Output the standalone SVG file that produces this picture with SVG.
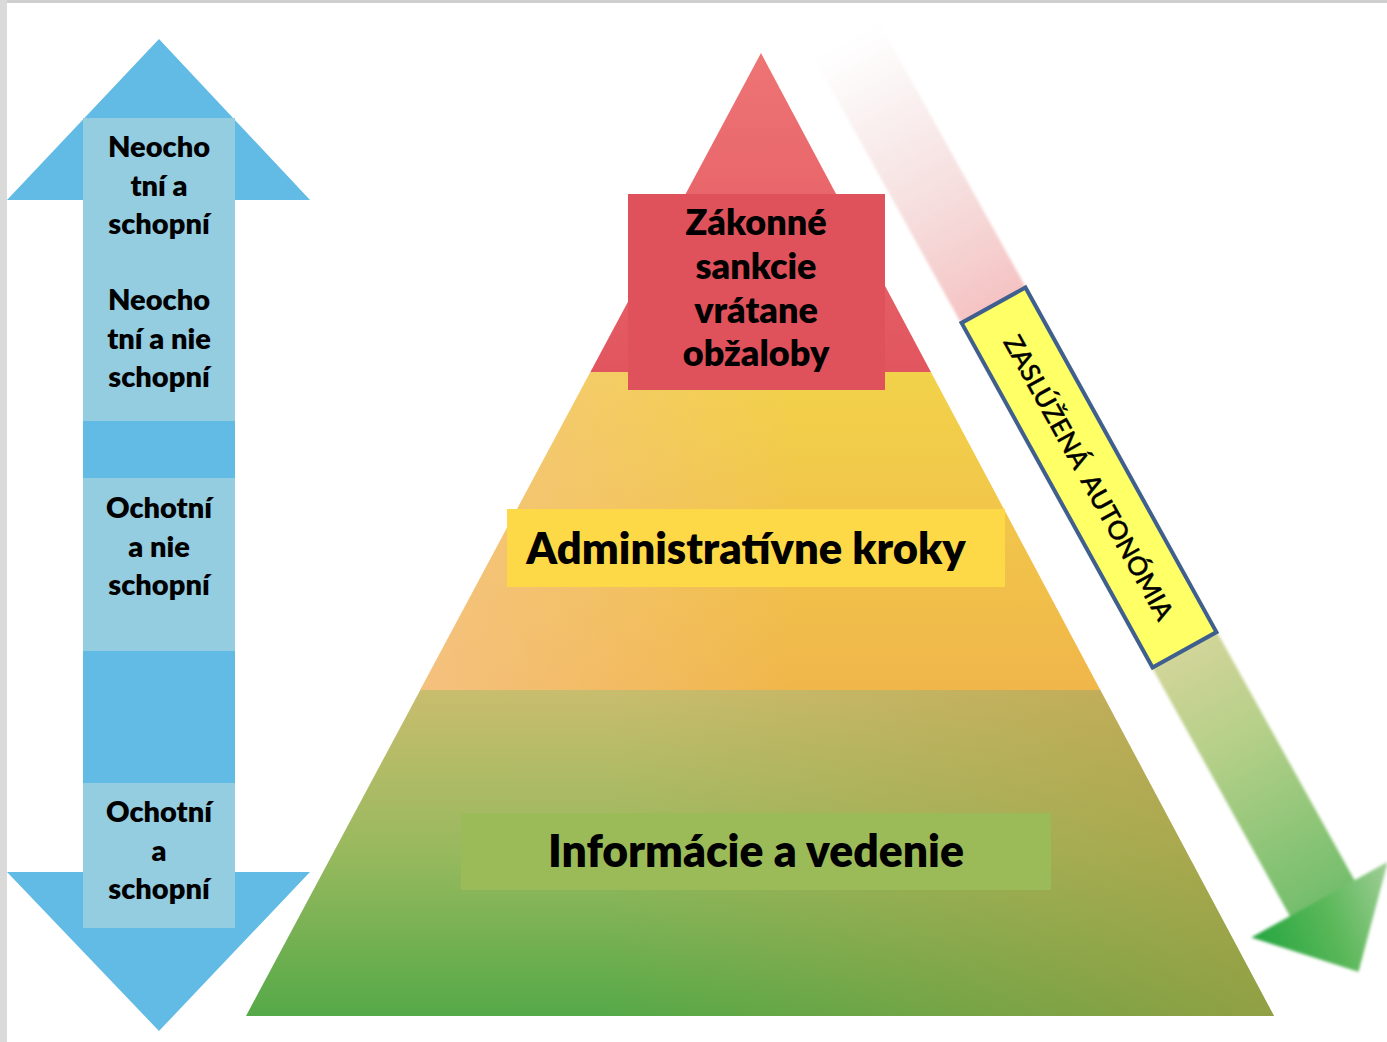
<svg xmlns="http://www.w3.org/2000/svg" width="1387" height="1042" viewBox="0 0 1387 1042">
  <style>
    .lbl { font-family: Lato, "Liberation Sans", sans-serif; font-weight: 800; fill: #000; text-anchor: middle; }
    .side { font-size: 29px; }
    .top { font-size: 36px; }
    .big { font-size: 44.5px; }
    .adm { font-size: 43.5px; }
    .auto { font-family: Lato, "Liberation Sans", sans-serif; font-weight: 500; font-size: 26px; fill: #000; stroke: #000; stroke-width: 0.4; text-anchor: middle; }
    .pale { fill: #94cce0; }
  </style>
  <defs>
    <linearGradient id="gRed" x1="0" y1="0" x2="0" y2="1">
      <stop offset="0" stop-color="#ee7474"/>
      <stop offset="1" stop-color="#e1555f"/>
    </linearGradient>
    <linearGradient id="gYellow" x1="0" y1="0" x2="0" y2="1">
      <stop offset="0" stop-color="#f2d24a"/>
      <stop offset="1" stop-color="#f0b64a"/>
    </linearGradient>
    <linearGradient id="gYellowSide" x1="0" y1="0" x2="1" y2="0">
      <stop offset="0" stop-color="#f6c490" stop-opacity="0.75"/>
      <stop offset="0.55" stop-color="#f6c490" stop-opacity="0"/>
    </linearGradient>
    <linearGradient id="gGreen" x1="0" y1="0" x2="0" y2="1">
      <stop offset="0" stop-color="#c9bd6e"/>
      <stop offset="0.5" stop-color="#98b95e"/>
      <stop offset="1" stop-color="#55a948"/>
    </linearGradient>
    <linearGradient id="gGreenSide" x1="0" y1="0" x2="1" y2="0">
      <stop offset="0.35" stop-color="#b89a40" stop-opacity="0"/>
      <stop offset="1" stop-color="#b89a40" stop-opacity="0.6"/>
    </linearGradient>
    <linearGradient id="gBand" gradientUnits="userSpaceOnUse" x1="-500" y1="0" x2="482" y2="0">
      <stop offset="0" stop-color="#f0d8d8" stop-opacity="0"/>
      <stop offset="0.1" stop-color="#f0d2d2" stop-opacity="0.4"/>
      <stop offset="0.31" stop-color="#f5c2c2" stop-opacity="1"/>
      <stop offset="0.7" stop-color="#d4d59a"/>
      <stop offset="0.82" stop-color="#b4cf88"/>
      <stop offset="1" stop-color="#74be6c"/>
    </linearGradient>
    <linearGradient id="gHead" gradientUnits="userSpaceOnUse" x1="500" y1="80" x2="520" y2="-76">
      <stop offset="0" stop-color="#26a640"/>
      <stop offset="0.5" stop-color="#5cb85a"/>
      <stop offset="1" stop-color="#a6d09c"/>
    </linearGradient>
    <filter id="soft" x="-10%" y="-30%" width="120%" height="160%">
      <feGaussianBlur stdDeviation="1.6"/>
    </filter>
    <clipPath id="clipYellow">
      <polygon points="590.4,372 930.9,372 1100.3,690 420.3,690"/>
    </clipPath>
    <clipPath id="clipGreen">
      <polygon points="420.3,690 1100.3,690 1274,1016 246,1016"/>
    </clipPath>
  </defs>

  <!-- page -->
  <rect x="0" y="0" width="1387" height="1042" fill="#ffffff"/>
  <rect x="0" y="0" width="1387" height="3" fill="#cfcfcf"/>
  <rect x="0" y="0" width="7" height="1042" fill="#dadada"/>

  <!-- arrows -->
  <g id="connectors">
    <polygon id="updown-arrow" fill="#62bbe5"
      points="159,39 310,200 235,200 235,872 310,872 159,1031 7,872 83,872 83,200 7,200"/>
    <g id="autonomy-arrow" transform="translate(1089,477.5) rotate(61)" filter="url(#soft)">
      <rect x="-500" y="-37" width="982" height="74" fill="url(#gBand)"/>
      <polygon points="481,81 481,-75 563,4" fill="url(#gHead)"/>
    </g>
  </g>

  <!-- left scale -->
  <g id="unwilling-able">
    <rect class="pale" x="83" y="118" width="152" height="303"/>
    <text class="lbl side" x="159" y="157">Neocho</text>
    <text class="lbl side" x="159" y="195.5">tní a</text>
    <text class="lbl side" x="159" y="234">schopní</text>
  </g>
  <g id="unwilling-unable">
    <text class="lbl side" x="159" y="310">Neocho</text>
    <text class="lbl side" x="159" y="348.5">tní a nie</text>
    <text class="lbl side" x="159" y="387">schopní</text>
  </g>
  <g id="willing-unable">
    <rect class="pale" x="83" y="478" width="152" height="173"/>
    <text class="lbl side" x="159" y="518">Ochotní</text>
    <text class="lbl side" x="159" y="556.5">a nie</text>
    <text class="lbl side" x="159" y="595">schopní</text>
  </g>
  <g id="willing-able">
    <rect class="pale" x="83" y="783" width="152" height="145"/>
    <text class="lbl side" x="159" y="822">Ochotní</text>
    <text class="lbl side" x="159" y="860.5">a</text>
    <text class="lbl side" x="159" y="899">schopní</text>
  </g>

  <!-- pyramid -->
  <g id="level-sanctions">
    <polygon points="761,53 930.9,372 590.4,372" fill="url(#gRed)"/>
  </g>
  <g id="level-administrative">
    <polygon points="590.4,372 930.9,372 1100.3,690 420.3,690" fill="url(#gYellow)"/>
    <rect x="420" y="372" width="681" height="318" fill="url(#gYellowSide)" clip-path="url(#clipYellow)"/>
  </g>
  <g id="level-information">
    <polygon points="420.3,690 1100.3,690 1274,1016 246,1016" fill="url(#gGreen)"/>
    <rect x="246" y="690" width="1028" height="326" fill="url(#gGreenSide)" clip-path="url(#clipGreen)"/>
  </g>

  <g id="label-sanctions">
    <rect x="628" y="194" width="257" height="196" fill="#e0525b"/>
    <text class="lbl top" x="756" y="235">Zákonné</text>
    <text class="lbl top" x="756" y="279">sankcie</text>
    <text class="lbl top" x="756" y="323">vrátane</text>
    <text class="lbl top" x="756" y="366">obžaloby</text>
  </g>
  <g id="label-administrative">
    <rect x="507" y="509" width="498" height="78" fill="#fdd947"/>
    <text class="lbl adm" x="746" y="564">Administratívne kroky</text>
  </g>
  <g id="label-information">
    <rect x="461" y="813" width="590" height="77" fill="#9bbb59"/>
    <text class="lbl big" x="756" y="867">Informácie a vedenie</text>
  </g>

  <g id="label-autonomy" transform="translate(1089,477.5) rotate(61)">
    <rect x="-197" y="-36.5" width="394" height="73" fill="#ffff66" stroke="#3f5f8e" stroke-width="4"/>
    <text class="auto" x="0" y="9.5" xml:space="preserve">ZASLÚŽENÁ  AUTONÓMIA</text>
  </g>
</svg>
